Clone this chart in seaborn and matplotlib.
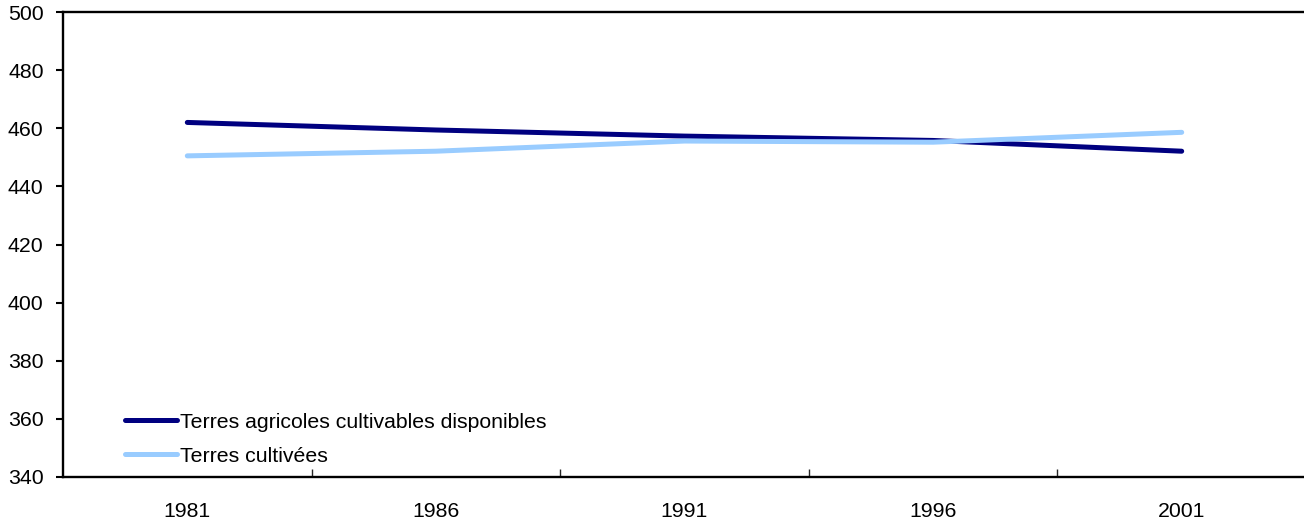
import matplotlib
matplotlib.use("Agg")
import matplotlib.pyplot as plt
import seaborn as sns
import pandas as pd
from matplotlib.ticker import FixedLocator

years = ["1981", "1986", "1991", "1996", "2001"]
available = [462.0, 459.4, 457.3, 455.8, 452.1]
cultivated = [450.5, 452.1, 455.6, 455.2, 458.6]
series_names = ["Terres agricoles cultivables disponibles", "Terres cultivées"]
colors = ["#000080", "#99CCFF"]
y_ticks = [340, 360, 380, 400, 420, 440, 460, 480, 500]

df = pd.DataFrame({
    "year": years * 2,
    "value": available + cultivated,
    "series": [series_names[0]] * len(years) + [series_names[1]] * len(years),
})

sns.set_style("white")
plt.rcParams["font.family"] = ["Liberation Sans", "DejaVu Sans"]
plt.rcParams["text.color"] = "black"

FS = 15.3

fig = plt.figure(figsize=(13.04, 5.24), dpi=100)
ax = fig.add_axes([63 / 1304, 1 - 477 / 524, 1243 / 1304, (477 - 12) / 524])

sns.lineplot(data=df, x="year", y="value", hue="series", palette=colors,
             linewidth=3.6, ax=ax, sort=False)
for ln in ax.get_lines():
    ln.set_solid_capstyle("round")

ax.set_xlim(-0.5, 4.5)
ax.set_ylim(340, 500)
ax.set_yticks(y_ticks)
ax.set_yticklabels([str(t) for t in y_ticks])
ax.set_xticks(range(len(years)))
ax.set_xticklabels(years)
ax.xaxis.set_minor_locator(FixedLocator([0.5, 1.5, 2.5, 3.5]))
ax.tick_params(axis="x", which="major", length=0, pad=18, labelsize=FS, colors="black")
ax.tick_params(axis="x", which="minor", direction="in", length=6, width=1, bottom=True)
ax.tick_params(axis="y", which="major", direction="out", length=5, width=1.5, pad=9,
               labelsize=FS, left=True, colors="black")
ax.set_xlabel("")
ax.set_ylabel("")
for side in ["left", "bottom", "top"]:
    ax.spines[side].set_linewidth(1.7)
    ax.spines[side].set_color("black")
ax.spines["right"].set_visible(False)

leg = ax.legend(loc="lower left", bbox_to_anchor=(0.041, 0.0), frameon=False,
                fontsize=FS, handlelength=2.45, handletextpad=0.15, labelspacing=0.7,
                borderaxespad=0.53, borderpad=0)
for h in leg.get_lines():
    h.set_linewidth(3.6)
for t in leg.get_texts():
    t.set_color("black")

fig.savefig("out.png", dpi=100)
